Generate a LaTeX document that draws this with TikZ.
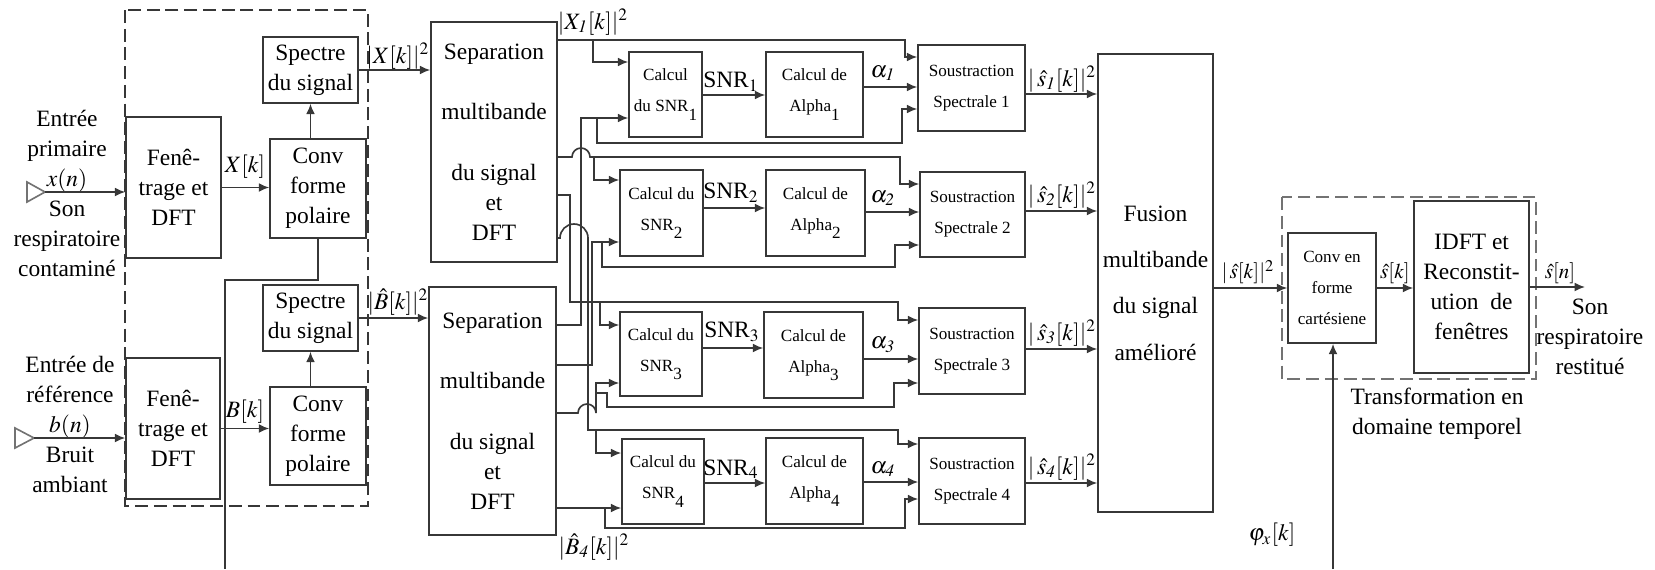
\documentclass[tikz,border=0pt]{standalone}
\usepackage{mathptmx}
\usepackage{fontspec}
\setmainfont{Liberation Serif}
\usetikzlibrary{arrows.meta, calc}
\definecolor{boxline}{RGB}{55, 55, 55}
\definecolor{grpgray}{RGB}{115, 115, 115}
\newcommand{\lowsub}[1]{\raisebox{-3.5pt}{#1}}
\tikzset{
  blk/.style        = {rectangle, draw=boxline, line width=0.7pt, inner sep=0pt, align=center, font=\fontsize{10}{12.8}\selectfont},
  sblk/.style       = {blk, font=\fontsize{7.3}{13.2}\selectfont},
  wd/.style         = {minimum width=#1*0.015cm},
  ht/.style         = {minimum height=#1*0.015cm},
  flow/.style       = {-{Latex[length=4.4pt,width=3.8pt]}, line width=0.7pt, boxline},
  wire/.style       = {line width=0.7pt, boxline},
  grp/.style        = {line width=0.7pt, dash pattern=on 5.5pt off 2.5pt},
  lbl/.style        = {inner sep=0pt, align=center, font=\fontsize{10}{12.8}\selectfont},
  slbl/.style       = {lbl, font=\fontsize{9}{11}\selectfont},
}

\begin{document}
\begin{tikzpicture}[x=0.015cm, y=-0.015cm]
  \useasboundingbox (0,0) rectangle (1655,569);

  % entrees
  \draw[grpgray, line width=0.7pt] (27,182) -- (45,192) -- (27,202) -- cycle;
  \coordinate (srcA) at (45,192);
  \draw[grpgray, line width=0.7pt] (15,428) -- (34,438) -- (15,448) -- cycle;
  \coordinate (srcB) at (34,438);
  \node[lbl] (inA) at (67,193) {Entrée\\primaire\\$x(n)$\\Son\\respiratoire\\contaminé};
  \node[lbl] (inB) at (70,424) {Entrée de\\référence\\$b(n)$\\Bruit\\ambiant};

  % analyse
  \node[blk, wd=95, ht=141] (fenA)  at (173.5,187.5) {Fenê-\\trage et\\DFT};
  \node[blk, wd=94, ht=141] (fenB)  at (173,428.5)   {Fenê-\\trage et\\DFT};
  \node[blk, wd=96, ht=99]  (convA) at (318,188.5)   {Conv\\forme\\polaire};
  \node[blk, wd=96, ht=98]  (convB) at (318,436)     {Conv\\forme\\polaire};
  \node[blk, wd=95, ht=66]  (specA) at (310.5,70)    {Spectre\\du signal};
  \node[blk, wd=95, ht=66]  (specB) at (310.5,318)   {Spectre\\du signal};
  \draw[grp, boxline] (125,10) rectangle (368,506);

  \node[blk, wd=126, ht=240] (sepA) at (494,142)   {Separation\\[13pt]multibande\\[13pt]du signal\\et\\DFT};
  \node[blk, wd=127, ht=248] (sepB) at (492.5,411) {Separation\\[13pt]multibande\\[13pt]du signal\\et\\DFT};

  % sous-bandes
  \node[sblk, wd=73, ht=85] (cA) at (665.5,94.5) {Calcul\\du SNR\lowsub{1}};
  \node[sblk, wd=83, ht=86] (cB) at (661.5,213)  {Calcul du\\SNR\lowsub{2}};
  \node[sblk, wd=82, ht=84] (cC) at (661,354)    {Calcul du\\SNR\lowsub{3}};
  \node[sblk, wd=82, ht=85] (cD) at (663,481.5)  {Calcul du\\SNR\lowsub{4}};
  \node[sblk, wd=97, ht=85] (aA) at (814.5,94.5) {Calcul de\\Alpha\lowsub{1}};
  \node[sblk, wd=99, ht=86] (aB) at (815.5,213)  {Calcul de\\Alpha\lowsub{2}};
  \node[sblk, wd=99, ht=86] (aC) at (813.5,355)  {Calcul de\\Alpha\lowsub{3}};
  \node[sblk, wd=97, ht=86] (aD) at (814.5,481)  {Calcul de\\Alpha\lowsub{4}};
  \node[sblk, wd=107, ht=86] (ssA) at (971.5,88)    {Soustraction\\Spectrale 1};
  \node[sblk, wd=105, ht=85] (ssB) at (972.5,214.5) {Soustraction\\Spectrale 2};
  \node[sblk, wd=106, ht=86] (ssC) at (972,351)     {Soustraction\\Spectrale 3};
  \node[sblk, wd=106, ht=86] (ssD) at (972,481)     {Soustraction\\Spectrale 4};

  % synthese
  \node[blk, wd=115, ht=458] (fus)  at (1155.5,283) {Fusion\\[7pt]multibande\\[7pt]du signal\\[7pt]amélioré};
  \node[sblk, wd=88, ht=110] (cart) at (1332,288)   {Conv en\\forme\\cartésiene};
  \node[blk, wd=115, ht=172] (idft) at (1471.5,287) {IDFT et\\Reconstit-\\ution~~de\\fenêtres};
  \draw[grp, grpgray] (1282,197) rectangle (1536,379);
  \coordinate (outS) at (1585,287);

  % liaisons gauche
  \draw[flow] (srcA) -- (srcA -| fenA.west);
  \draw[flow] (srcB) -- (srcB -| fenB.west);
  \draw[flow] (fenA.east) -- (fenA.east -| convA.west);
  \draw[flow] (fenB.east) -- (fenB.east -| convB.west);
  \draw[flow] (specA.south |- convA.north) -- (specA.south);
  \draw[flow] (specB.south |- convB.north) -- (specB.south);
  \draw[flow] (specA.east) -- (specA.east -| sepA.west);
  \draw[flow] (specB.east) -- (specB.east -| sepB.west);
  \coordinate (phiA) at (225,569);
  \draw[wire] (convA.south) -- ++(0,41) -| (phiA);

  % bande 1
  \draw[flow] (sepA.east |- 0,40) -- (905,40) |- (ssA.west |- 0,57);
  \draw[flow] (593,40) |- (cA.west |- 0,62);
  \draw[flow] (sepB.east |- 0,325) -| (581,118) -- (cA.west |- 0,118);
  \draw[flow] (597,118) -- (597,143) -- (902,143) |- (ssA.west |- 0,109);
  \draw[flow] (cA.east |- 0,95) -- (aA.west |- 0,95);
  \draw[flow] (aA.east |- 0,87) -- (ssA.west |- 0,87);
  \draw[flow] (ssA.east |- 0,94) -- (fus.west |- 0,94);
  % bande 2
  \draw[flow] (sepA.east |- 0,157) -- (572,157) arc (180:360:9) -- (900,157) |- (ssB.west |- 0,184);
  \draw[flow] (594,157) |- (cB.west |- 0,180);
  \draw[flow] (sepB.east |- 0,365) -| (592,242) -- (cB.west |- 0,242);
  \draw[flow] (602,242) -- (602,267) -- (895,267) |- (ssB.west |- 0,245);
  \draw[flow] (cB.east |- 0,208) -- (aB.west |- 0,208);
  \draw[flow] (aB.east |- 0,212) -- (ssB.west |- 0,212);
  \draw[flow] (ssB.east |- 0,211) -- (fus.west |- 0,211);
  % bande 3
  \draw[flow] (sepA.east |- 0,195) -| (570,302) -- (898,302) |- (ssC.west |- 0,320);
  \draw[flow] (600,302) |- (cC.west |- 0,325);
  \draw[flow] (sepB.east |- 0,413) -- (578,413) arc (180:360:9) -- (596,383) -- (cC.west |- 0,383);
  \draw[flow] (596,393) -- (607,393) -- (607,407) -- (894,407) |- (ssC.west |- 0,383);
  \draw[flow] (cC.east |- 0,348) -- (aC.west |- 0,348);
  \draw[flow] (aC.east |- 0,359) -- (ssC.west |- 0,359);
  \draw[flow] (ssC.east |- 0,349) -- (fus.west |- 0,349);
  % bande 4
  \draw[flow] (sepA.east |- 0,238) -- (560,238) arc (180:360:14) -- (588,430) -- (898,430) |- (ssD.west |- 0,444);
  \draw[flow] (596,430) |- (cD.west |- 0,453);
  \draw[flow] (sepB.east |- 0,508) -- (cD.west |- 0,508);
  \draw[flow] (605,508) -- (605,528) -- (905,528) |- (ssD.west |- 0,499);
  \draw[flow] (cD.east |- 0,483) -- (aD.west |- 0,483);
  \draw[flow] (aD.east |- 0,482) -- (ssD.west |- 0,482);
  \draw[flow] (ssD.east |- 0,483) -- (fus.west |- 0,483);

  % liaisons droite
  \draw[flow] (fus.east |- cart.west) -- (cart.west);
  \draw[flow] (cart.east) -- (cart.east -| idft.west);
  \draw[flow] (idft.east) -- (outS);
  \coordinate (phiB) at (1333,569);
  \draw[flow] (phiB) -- (phiB |- cart.south);

  % etiquettes
  \node[lbl] (lXk) at (245,167) {$X[k]$};
  \node[lbl] (lBk) at (245,412) {$B[k]$};
  \node[lbl] (lXA) at (398,56)  {$|X[k]|^2$};
  \node[lbl] (lBA) at (398,302) {$|\hat{B}[k]|^2$};
  \node[lbl] (lX1) at (593,22)  {$|X_{\mathit{1}}[k]|^2$};
  \node[lbl] (lB4) at (594,547) {$|\hat{B}_{\mathit{4}}[k]|^2$};
  \node[lbl] (lsnrA) at (731,82)  {SNR$_1$};
  \node[lbl] (lsnrB) at (731,193) {SNR$_2$};
  \node[lbl] (lsnrC) at (732,332) {SNR$_3$};
  \node[lbl] (lsnrD) at (731,469) {SNR$_4$};
  \node[lbl] (lalA) at (883,73)  {$\alpha_{\mathit{1}}$};
  \node[lbl] (lalB) at (883,198) {$\alpha_{\mathit{2}}$};
  \node[lbl] (lalC) at (883,345) {$\alpha_{\mathit{3}}$};
  \node[lbl] (lalD) at (883,469) {$\alpha_{\mathit{4}}$};
  \node[lbl] (lsA) at (1062,79)  {$|\,\hat{s}_{\mathit{1}}[k]|^2$};
  \node[lbl] (lsB) at (1062,195) {$|\,\hat{s}_{\mathit{2}}[k]|^2$};
  \node[lbl] (lsC) at (1062,333) {$|\,\hat{s}_{\mathit{3}}[k]|^2$};
  \node[lbl] (lsD) at (1062,467) {$|\,\hat{s}_{\mathit{4}}[k]|^2$};
  \node[slbl] (lsF) at (1248,272) {$|\,\hat{s}[k]|^2$};
  \node[slbl] (lsk) at (1395,273) {$\hat{s}[k]$};
  \node[slbl] (lsn) at (1560,273) {$\hat{s}[n]$};
  \node[lbl] (lout) at (1590,337) {Son\\respiratoire\\restitué};
  \node[lbl] (ltr) at (1437,414) {Transformation en\\domaine temporel};
  \node[lbl] (lphi) at (1272,535) {$\varphi_x[k]$};
\end{tikzpicture}
\end{document}
